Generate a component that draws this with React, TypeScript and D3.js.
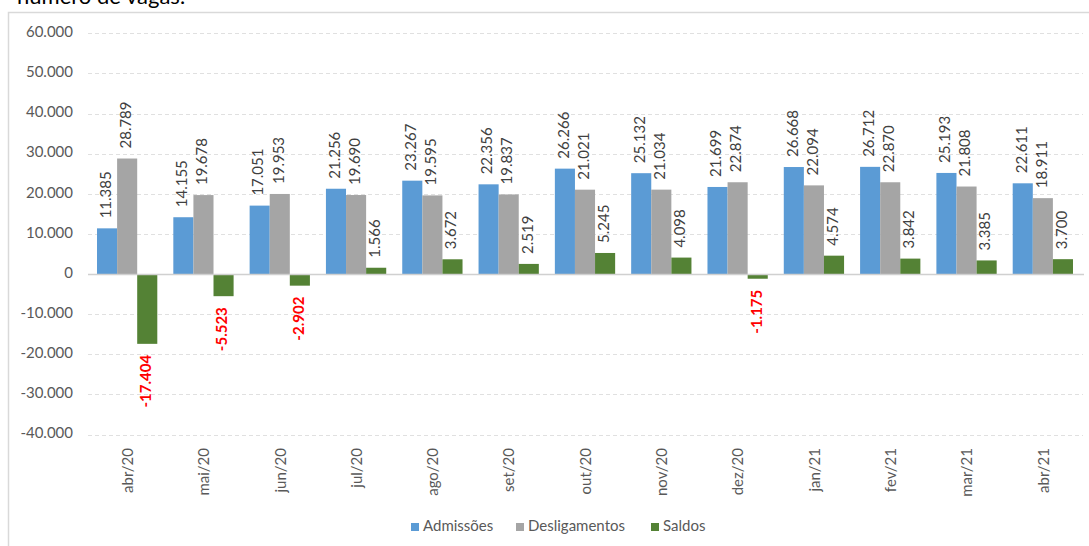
import React, { useEffect, useRef } from 'react';
import * as d3 from 'd3';

const categories = ['abr/20', 'mai/20', 'jun/20', 'jul/20', 'ago/20', 'set/20', 'out/20', 'nov/20', 'dez/20', 'jan/21', 'fev/21', 'mar/21', 'abr/21'];
const admissoes = [11385, 14155, 17051, 21256, 23267, 22356, 26266, 25132, 21699, 26668, 26712, 25193, 22611];
const desligamentos = [28789, 19678, 19953, 19690, 19595, 19837, 21021, 21034, 22874, 22094, 22870, 21808, 18911];
const saldos = [-17404, -5523, -2902, 1566, 3672, 2519, 5245, 4098, -1175, 4574, 3842, 3385, 3700];
const seriesNames = ['Admissões', 'Desligamentos', 'Saldos'];
const seriesColors = ['#5B9BD5', '#A5A5A5', '#548235'];
const yTicks = [-40000, -30000, -20000, -10000, 0, 10000, 20000, 30000, 40000, 50000, 60000];

const FONT = 'Lato, "Open Sans", sans-serif';

const App = () => {
  const ref = useRef<SVGSVGElement | null>(null);

  useEffect(() => {
    document.body.style.margin = '0';
    const width = 1089;
    const height = 546;
    const svg = d3.select(ref.current).attr('width', width).attr('height', height);
    svg.selectAll('*').remove();

    const fmt = d3.formatLocale({ decimal: ',', thousands: '.', grouping: [3], currency: ['R$', ''], minus: '-' }).format(',d');

    // frame + clipped title
    svg.append('rect')
      .attr('x', 8.5).attr('y', 12.5).attr('width', 1100).attr('height', 560)
      .attr('fill', 'white').attr('stroke', '#D9D9D9').attr('stroke-width', 1.5);
    svg.append('text')
      .attr('x', 17).attr('y', 4)
      .attr('font-family', FONT).attr('font-size', 22).attr('fill', '#000')
      .text('número de vagas.');

    const x0 = d3.scaleBand().domain(categories).range([89, 1081]).paddingInner(0.21).paddingOuter(0.105);
    const x1 = d3.scaleBand().domain(seriesNames).range([0, x0.bandwidth()]);
    const y = d3.scaleLinear().domain([-40000, 60000]).range([434.5, 33.3]);

    // grid
    svg.append('g').selectAll('line').data(yTicks.filter((t) => t !== 0)).enter().append('line')
      .attr('x1', 88).attr('x2', 1083)
      .attr('y1', (d) => Math.round(y(d)) + 0.5).attr('y2', (d) => Math.round(y(d)) + 0.5)
      .attr('stroke', '#E0E0E0').attr('stroke-dasharray', '4,3');

    svg.append('g').selectAll('text').data(yTicks).enter().append('text')
      .attr('x', 73).attr('y', (d) => y(d))
      .attr('text-anchor', 'end').attr('dominant-baseline', 'middle')
      .attr('font-family', FONT).attr('font-size', 15).attr('fill', '#595959')
      .text((d) => fmt(d));

    const series = [admissoes, desligamentos, saldos];
    const rows = categories.map((c, i) => ({ c, vals: series.map((s, k) => ({ k, v: s[i] })) }));

    const groups = svg.append('g').selectAll('g').data(rows).enter().append('g')
      .attr('transform', (d) => `translate(${x0(d.c)},0)`);

    groups.selectAll('rect').data((d) => d.vals).enter().append('rect')
      .attr('x', (d) => x1(seriesNames[d.k]) as number)
      .attr('width', x1.bandwidth())
      .attr('y', (d) => y(Math.max(0, d.v)))
      .attr('height', (d) => Math.abs(y(d.v) - y(0)))
      .attr('fill', (d) => seriesColors[d.k]);

    groups.selectAll('text.val').data((d) => d.vals).enter().append('text')
      .attr('class', 'val')
      .attr('transform', (d) => {
        const cx = (x1(seriesNames[d.k]) as number) + x1.bandwidth() / 2;
        const yy = d.v >= 0 ? y(d.v) - 10 : y(d.v) + 11;
        return `translate(${cx},${yy}) rotate(-90)`;
      })
      .attr('text-anchor', (d) => (d.v >= 0 ? 'start' : 'end'))
      .attr('dominant-baseline', 'middle')
      .attr('font-family', FONT).attr('font-size', 15)
      .attr('font-weight', (d) => (d.v < 0 ? 'bold' : 'normal'))
      .attr('fill', (d) => (d.v < 0 ? '#FF0000' : '#404040'))
      .text((d) => fmt(d.v));

    // zero axis
    svg.append('line')
      .attr('x1', 88).attr('x2', 1084)
      .attr('y1', Math.round(y(0)) + 0.5).attr('y2', Math.round(y(0)) + 0.5)
      .attr('stroke', '#D0D0D0').attr('stroke-width', 1.5);

    // category labels
    svg.append('g').selectAll('text').data(categories).enter().append('text')
      .attr('transform', (d) => `translate(${(x0(d) as number) + x0.bandwidth() / 2 + 2},448) rotate(-90)`)
      .attr('text-anchor', 'end').attr('dominant-baseline', 'middle')
      .attr('font-family', FONT).attr('font-size', 15).attr('fill', '#595959')
      .text((d) => d);

    // legend
    const legendX = [411, 516, 651];
    const legend = svg.append('g').selectAll('g').data(seriesNames).enter().append('g')
      .attr('transform', (d, i) => `translate(${legendX[i]},523)`);
    legend.append('rect').attr('width', 8).attr('height', 8).attr('fill', (d, i) => seriesColors[i]);
    legend.append('text')
      .attr('x', 12).attr('y', 4.5).attr('dominant-baseline', 'middle')
      .attr('font-family', FONT).attr('font-size', 15).attr('fill', '#595959')
      .text((d) => d);
  }, []);

  return <svg ref={ref} style={{ display: 'block' }} />;
};

export default App;
